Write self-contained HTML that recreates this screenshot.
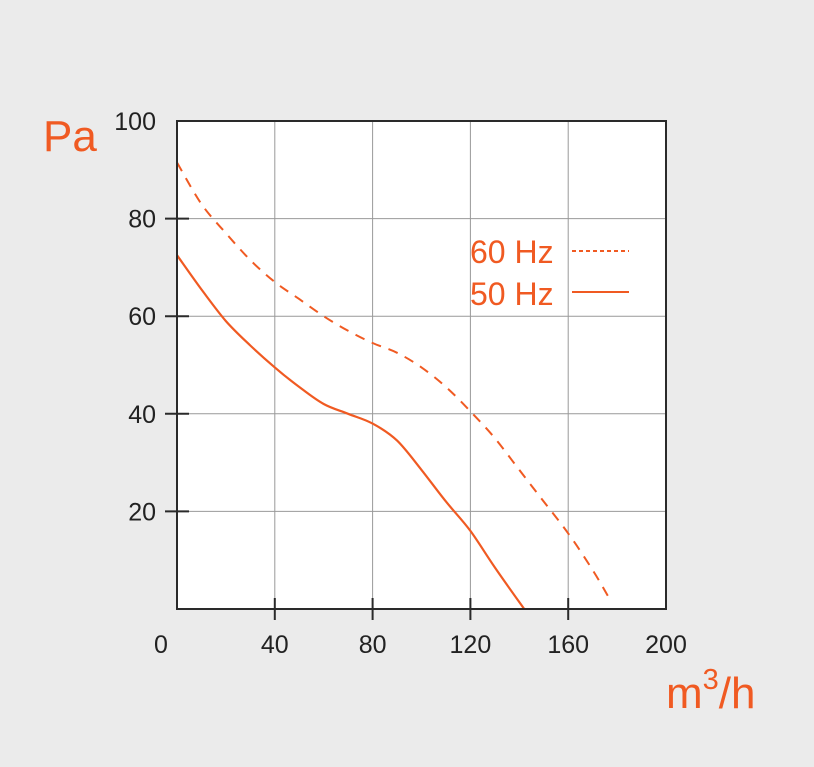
<!DOCTYPE html>
<html><head><meta charset="utf-8"><style>
body{margin:0;background:#ebebeb;}
svg{display:block;font-family:"Liberation Sans",sans-serif;}
</style></head><body>
<svg width="814" height="767" viewBox="0 0 814 767">
<rect x="0" y="0" width="814" height="767" fill="#ebebeb"/>
<rect x="177" y="121" width="489" height="488" fill="#fff"/>
<g id="grid"></g>
<g id="ticks"></g>
<g id="series"></g>
<rect x="177" y="121" width="489" height="488" fill="none" stroke="#2a2a2a" stroke-width="2"/>
<text x="43" y="151" font-size="44" fill="#f05a22">Pa</text>
<text x="666" y="708" font-size="44" fill="#f05a22">m<tspan dy="-19" font-size="29">3</tspan><tspan dy="19">/h</tspan></text>
<g>
<text x="470" y="263" font-size="32" fill="#f05a22">60 Hz</text>
<line x1="572" y1="251" x2="629" y2="251" stroke="#f05a22" stroke-width="2" stroke-dasharray="4,3"/>
<text x="470" y="305" font-size="32" fill="#f05a22">50 Hz</text>
<line x1="572" y1="292" x2="629" y2="292" stroke="#f05a22" stroke-width="2"/>
</g>
</svg>
<script>
const xTicks=[0,40,80,120,160,200];
const yTicks=[20,40,60,80,100];
const s50x=[0,10,20,30,40,50,60,70,80,90,100,110,120,130,142];
const s50y=[72.5,65.5,59,54,49.5,45.5,42,40,38,34.5,28.5,22,16,8.5,0];
const s60x=[0,10,20,30,40,50,60,70,80,90,100,110,120,130,140,150,160,170,177];
const s60y=[91.5,83,77,71.5,67,63.5,60,57,54.5,52.5,49.5,45.5,40.5,35,28.5,22,15.5,8,2];
const X=v=>177+v/200*489, Y=v=>609-v/100*488;
const NS="http://www.w3.org/2000/svg";
function mk(t,a,p){const e=document.createElementNS(NS,t);for(const k in a)e.setAttribute(k,a[k]);p.appendChild(e);return e;}
const g=document.getElementById('grid'),tk=document.getElementById('ticks'),sr=document.getElementById('series');
xTicks.forEach(v=>{
 if(v>0&&v<200){const l=mk('line',{x1:X(v),y1:121,x2:X(v),y2:609,stroke:'#999','stroke-width':1},g);
 
 
 const t=mk('line',{x1:X(v),y1:598,x2:X(v),y2:620,stroke:'#2a2a2a','stroke-width':2},tk);
 
 }
 const tx=mk('text',{x:v===0?161:X(v),y:653,'font-size':25,fill:'#222','text-anchor':'middle'},tk);tx.textContent=v;
 
 
});
yTicks.forEach(v=>{
 if(v<100){const l=mk('line',{x1:177,y1:Y(v),x2:666,y2:Y(v),stroke:'#999','stroke-width':1},g);
 
 
 const t=mk('line',{x1:165,y1:Y(v),x2:189,y2:Y(v),stroke:'#2a2a2a','stroke-width':2},tk);
 
 }
 const tx=mk('text',{x:156,y:Y(v)+9,'font-size':25,fill:'#222','text-anchor':'end'},tk);tx.textContent=v;
 
 
});
function path(xs,ys){
 const P=xs.map((x,i)=>[X(x),Y(ys[i])]);let d='M'+P[0][0].toFixed(1)+','+P[0][1].toFixed(1);
 for(let i=0;i<P.length-1;i++){const p0=P[i-1]||P[i],p1=P[i],p2=P[i+1],p3=P[i+2]||P[i+1];
  const c1=[p1[0]+(p2[0]-p0[0])/6,p1[1]+(p2[1]-p0[1])/6],c2=[p2[0]-(p3[0]-p1[0])/6,p2[1]-(p3[1]-p1[1])/6];
  d+='C'+c1.map(n=>n.toFixed(1))+' '+c2.map(n=>n.toFixed(1))+' '+p2.map(n=>n.toFixed(1));}
 return d;}
const p60=mk('path',{d:path(s60x,s60y),fill:'none',stroke:'#f05a22','stroke-width':2,'stroke-dasharray':'10,8'},sr);


const p50=mk('path',{d:path(s50x,s50y),fill:'none',stroke:'#f05a22','stroke-width':2.2},sr);


</script>
</body></html>
